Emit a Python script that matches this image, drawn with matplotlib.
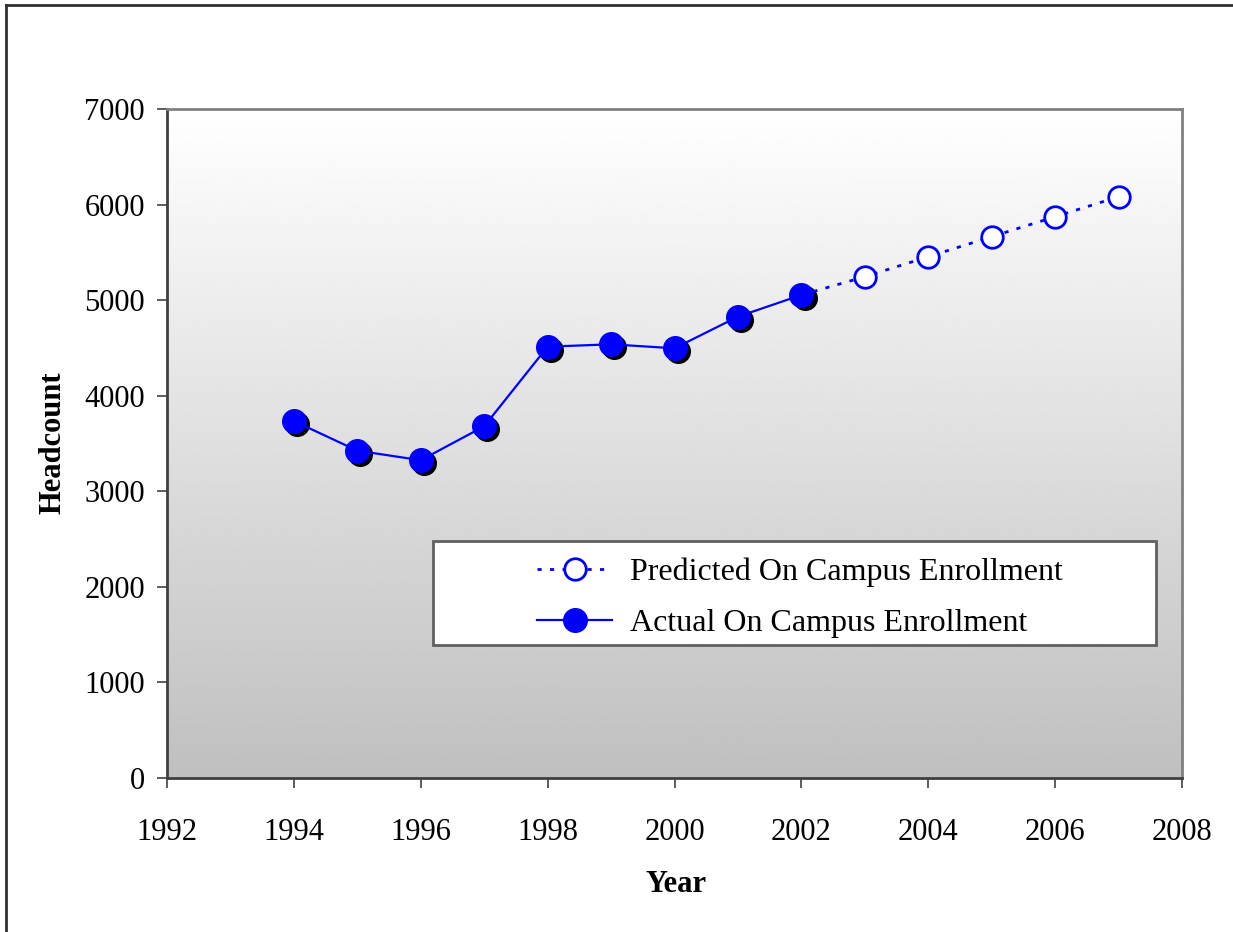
import numpy as np
import matplotlib
matplotlib.use("Agg")
import matplotlib.pyplot as plt
from matplotlib.lines import Line2D
from matplotlib.patches import Rectangle

# Données
actual_years = [1994, 1995, 1996, 1997, 1998, 1999, 2000, 2001, 2002]
actual_headcount = [3735, 3425, 3325, 3680, 4513, 4538, 4496, 4827, 5054]
predicted_years = [2002, 2003, 2004, 2005, 2006, 2007]
predicted_headcount = [5054, 5245, 5454, 5664, 5873, 6082]
x_ticks = list(range(1992, 2009, 2))
y_ticks = list(range(0, 7001, 1000))

plt.rcParams['font.family'] = ['Liberation Serif', 'DejaVu Serif']

fig = plt.figure(figsize=(12.33, 9.32), dpi=100)
ax = fig.add_axes([167/1233, 1 - 778/932, (1182 - 167)/1233, (778 - 109)/932])

# fond dégradé blanc -> gris
grad = np.linspace(1.0, 0.75, 256).reshape(-1, 1)
ax.imshow(grad, cmap='gray', vmin=0, vmax=1, aspect='auto',
          extent=[1992, 2008, 0, 7000], origin='upper', zorder=0)

blue = '#0000ff'
dots = (0, (1.5, 3))
# ombre des points réels
ax.plot(np.array(actual_years) + 0.05, np.array(actual_headcount) - 30, 'o',
        color='black', markersize=17, zorder=2)
ax.plot(actual_years, actual_headcount, '-', color=blue, linewidth=1.6,
        marker='o', markersize=17, markerfacecolor=blue, markeredgecolor=blue, zorder=3)
ax.plot(predicted_years[1:], predicted_headcount[1:], 'o', markersize=15.5,
        markerfacecolor='white', markeredgecolor=blue, markeredgewidth=2, zorder=4)
ax.plot(predicted_years, predicted_headcount, linestyle=dots, color=blue,
        linewidth=2, zorder=2.5)

ax.set_xlim(1992, 2008)
ax.set_ylim(0, 7000)
ax.set_xticks(x_ticks)
ax.set_yticks(y_ticks)
ax.tick_params(axis='both', direction='out', length=7, width=1.2, color='#404040',
               labelsize=22, pad=9)
ax.tick_params(axis='x', pad=22)
for side, col in [('left', '#404040'), ('bottom', '#404040'),
                  ('top', '#808080'), ('right', '#808080')]:
    ax.spines[side].set_color(col)
    ax.spines[side].set_linewidth(2)

fig.text(53/1233, 1 - 443/932, 'Headcount', rotation=90, ha='center', va='center',
         fontsize=22, fontweight='bold')
fig.text(676/1233, 1 - 884/932, 'Year', ha='center', va='center',
         fontsize=22, fontweight='bold')

# cadre de la légende
box = Rectangle(((433 - 167)/1015, (778 - 645)/669), (1156 - 433)/1015, 104/669,
                transform=ax.transAxes, facecolor='white', edgecolor='#606060',
                linewidth=2, zorder=9, clip_on=False)
ax.add_patch(box)

handles = [
    Line2D([], [], linestyle=dots, color=blue, linewidth=2, marker='o',
           markersize=15.5, markerfacecolor='white', markeredgecolor=blue, markeredgewidth=2),
    Line2D([], [], linestyle='-', color=blue, linewidth=1.6, marker='o',
           markersize=17, markerfacecolor=blue, markeredgecolor=blue),
]
leg = ax.legend(handles, ['Predicted On Campus Enrollment', 'Actual On Campus Enrollment'],
                loc='center left', bbox_to_anchor=((537 - 167)/1015, (778 - 598)/669),
                fontsize=23, frameon=False, borderpad=0, handlelength=2.35,
                labelspacing=0.68, borderaxespad=0, handletextpad=0.55)
leg.set_zorder(10)

# cadre extérieur
fig.add_artist(Line2D([6/1233, 6/1233], [0, 1 - 5/932], color='#303030', linewidth=2))
fig.add_artist(Line2D([6/1233, 1], [1 - 5/932, 1 - 5/932], color='#303030', linewidth=2))

fig.savefig('out.png', dpi=100)
